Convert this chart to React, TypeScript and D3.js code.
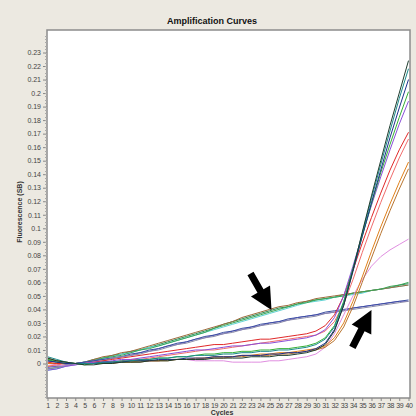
import React, { useEffect, useRef } from 'react';
import * as d3 from 'd3';

// cycle numbers 1..40
const cycles = [
  1, 2, 3, 4, 5, 6, 7, 8, 9, 10, 11, 12, 13, 14, 15, 16, 17, 18, 19, 20,
  21, 22, 23, 24, 25, 26, 27, 28, 29, 30, 31, 32, 33, 34, 35, 36, 37, 38, 39, 40,
];

const yTickValues = [
  0, 0.01, 0.02, 0.03, 0.04, 0.05, 0.06, 0.07, 0.08, 0.09, 0.1, 0.11,
  0.12, 0.13, 0.14, 0.15, 0.16, 0.17, 0.18, 0.19, 0.2, 0.21, 0.22, 0.23,
];
const yTickLabels = [
  '0', '0.01', '0.02', '0.03', '0.04', '0.05', '0.06', '0.07', '0.08', '0.09', '0.1', '0.11',
  '0.12', '0.13', '0.14', '0.15', '0.16', '0.17', '0.18', '0.19', '0.2', '0.21', '0.22', '0.23',
];

// upper drifting group (first arrow)
const upper1 = [-0.004,-0.003,-0.002,0.000,0.001,0.003,0.004,0.006,0.007,0.009,0.010,0.012,0.014,0.016,0.018,0.020,0.022,0.024,0.026,0.029,0.031,0.033,0.035,0.037,0.039,0.041,0.042,0.044,0.046,0.047,0.048,0.049,0.051,0.052,0.053,0.054,0.055,0.056,0.058,0.059];
const upper2 = [-0.005,-0.004,-0.002,-0.001,0.001,0.002,0.004,0.005,0.007,0.008,0.010,0.012,0.013,0.015,0.017,0.019,0.021,0.023,0.025,0.027,0.029,0.031,0.033,0.035,0.037,0.039,0.041,0.043,0.045,0.046,0.047,0.049,0.050,0.051,0.052,0.054,0.055,0.056,0.057,0.058];
const upper3 = [-0.002,-0.002,-0.001,0.000,0.001,0.003,0.005,0.006,0.008,0.009,0.011,0.013,0.015,0.017,0.019,0.021,0.023,0.025,0.027,0.029,0.031,0.034,0.036,0.038,0.040,0.042,0.043,0.045,0.046,0.048,0.049,0.050,0.051,0.052,0.053,0.054,0.055,0.056,0.057,0.058];
const upper4 = [0.003,0.002,0.001,0.000,0.001,0.002,0.004,0.005,0.006,0.008,0.010,0.011,0.013,0.015,0.017,0.019,0.021,0.023,0.026,0.028,0.030,0.032,0.034,0.036,0.038,0.040,0.042,0.044,0.045,0.047,0.048,0.049,0.050,0.052,0.053,0.054,0.055,0.057,0.058,0.060];

// lower drifting group (second arrow)
const lower1 = [-0.003,-0.002,-0.001,0.000,0.001,0.002,0.003,0.004,0.005,0.006,0.008,0.009,0.011,0.013,0.014,0.016,0.018,0.019,0.021,0.022,0.024,0.025,0.027,0.028,0.030,0.031,0.032,0.034,0.035,0.036,0.037,0.038,0.039,0.041,0.042,0.043,0.044,0.045,0.046,0.046];
const lower2 = [0.002,0.001,0.000,0.000,0.001,0.002,0.003,0.004,0.005,0.007,0.008,0.010,0.011,0.013,0.015,0.016,0.018,0.020,0.021,0.023,0.024,0.026,0.027,0.029,0.030,0.031,0.033,0.034,0.035,0.036,0.038,0.039,0.040,0.041,0.042,0.043,0.044,0.045,0.046,0.047];
const lower3 = [-0.004,-0.003,-0.001,0.000,0.000,0.001,0.002,0.004,0.005,0.006,0.007,0.009,0.010,0.012,0.014,0.015,0.017,0.019,0.020,0.022,0.023,0.025,0.026,0.028,0.029,0.030,0.032,0.033,0.034,0.035,0.037,0.038,0.039,0.040,0.041,0.042,0.043,0.044,0.045,0.046];

// amplifying samples
const amp1 = [0.004,0.002,0.001,0.000,-0.001,-0.001,0.000,0.000,0.001,0.001,0.001,0.002,0.002,0.002,0.003,0.003,0.003,0.003,0.004,0.004,0.004,0.004,0.005,0.005,0.005,0.006,0.006,0.007,0.008,0.010,0.014,0.024,0.043,0.069,0.097,0.124,0.150,0.176,0.200,0.224];
const amp2 = [0.005,0.003,0.001,0.000,0.000,0.000,0.001,0.001,0.002,0.002,0.003,0.003,0.004,0.004,0.005,0.005,0.006,0.006,0.006,0.007,0.007,0.008,0.008,0.009,0.009,0.010,0.010,0.011,0.012,0.014,0.018,0.027,0.045,0.070,0.096,0.122,0.147,0.172,0.196,0.218];
const amp3 = [0.003,0.001,0.000,0.000,-0.001,0.000,0.000,0.001,0.001,0.002,0.002,0.003,0.004,0.004,0.005,0.005,0.006,0.007,0.007,0.008,0.008,0.009,0.009,0.010,0.010,0.011,0.011,0.012,0.013,0.015,0.019,0.028,0.046,0.070,0.094,0.118,0.141,0.162,0.182,0.201];
const amp4 = [-0.005,-0.004,-0.002,-0.001,0.000,0.001,0.001,0.002,0.003,0.003,0.004,0.005,0.006,0.007,0.008,0.009,0.010,0.010,0.011,0.012,0.013,0.013,0.014,0.015,0.015,0.016,0.017,0.018,0.019,0.021,0.025,0.034,0.050,0.072,0.095,0.117,0.138,0.158,0.177,0.194];
const amp5 = [0.002,0.001,0.000,0.000,0.000,0.000,0.001,0.001,0.001,0.002,0.002,0.002,0.003,0.003,0.003,0.004,0.004,0.004,0.005,0.005,0.005,0.006,0.006,0.006,0.007,0.007,0.008,0.008,0.009,0.011,0.015,0.025,0.043,0.068,0.094,0.119,0.143,0.167,0.189,0.210];
const amp6 = [0.001,0.000,0.000,0.000,0.000,0.001,0.002,0.003,0.004,0.005,0.006,0.007,0.008,0.009,0.010,0.011,0.012,0.013,0.014,0.014,0.015,0.016,0.017,0.018,0.018,0.019,0.020,0.021,0.022,0.024,0.028,0.036,0.050,0.069,0.089,0.108,0.126,0.143,0.158,0.171];
const amp7 = [-0.002,-0.001,0.000,0.000,0.000,0.000,0.001,0.001,0.002,0.003,0.003,0.004,0.005,0.006,0.007,0.008,0.009,0.010,0.010,0.011,0.012,0.013,0.014,0.015,0.016,0.017,0.018,0.019,0.020,0.021,0.024,0.031,0.044,0.062,0.082,0.101,0.119,0.136,0.152,0.166];
const amp8 = [0.000,0.000,0.000,0.000,0.000,0.000,0.000,0.001,0.001,0.001,0.002,0.002,0.002,0.003,0.003,0.003,0.004,0.004,0.005,0.005,0.005,0.006,0.006,0.007,0.007,0.008,0.008,0.009,0.010,0.011,0.013,0.019,0.030,0.046,0.064,0.083,0.101,0.118,0.134,0.149];
const amp9 = [0.004,0.002,0.001,0.000,0.000,0.000,0.000,0.000,0.001,0.001,0.001,0.002,0.002,0.002,0.003,0.003,0.003,0.004,0.004,0.004,0.005,0.005,0.006,0.006,0.006,0.007,0.007,0.008,0.009,0.010,0.012,0.017,0.027,0.042,0.060,0.078,0.096,0.113,0.129,0.144];
const slowPink = [0.000,-0.001,-0.002,-0.001,0.000,0.000,0.001,0.001,0.001,0.002,0.002,0.002,0.002,0.003,0.003,0.003,0.002,0.002,0.002,0.002,0.001,0.001,0.001,0.001,0.002,0.002,0.003,0.004,0.005,0.007,0.012,0.022,0.036,0.050,0.062,0.072,0.079,0.084,0.088,0.092];

const seriesList = [
  { name: 'upper1', values: upper1, color: '#2e8b57' },
  { name: 'upper2', values: upper2, color: '#5fd3d3' },
  { name: 'upper3', values: upper3, color: '#9c6b3c' },
  { name: 'upper4', values: upper4, color: '#3aa655' },
  { name: 'lower1', values: lower1, color: '#6a5acd' },
  { name: 'lower2', values: lower2, color: '#3b4fa0' },
  { name: 'lower3', values: lower3, color: '#8a8aa8' },
  { name: 'slowPink', values: slowPink, color: '#e08ee0' },
  { name: 'amp9', values: amp9, color: '#b8742f' },
  { name: 'amp8', values: amp8, color: '#e0801a' },
  { name: 'amp7', values: amp7, color: '#f06c6c' },
  { name: 'amp6', values: amp6, color: '#e02828' },
  { name: 'amp4', values: amp4, color: '#8a4fd8' },
  { name: 'amp3', values: amp3, color: '#35b035' },
  { name: 'amp5', values: amp5, color: '#1e2f8c' },
  { name: 'amp2', values: amp2, color: '#1b8a8a' },
  { name: 'amp1', values: amp1, color: '#1f3d2f' },
];

// arrow annotations: tip at (cycle, value), pointing angle in degrees
const arrowNotes = [
  { cycle: 25.2, value: 0.0396, angle: 60 },
  { cycle: 36.0, value: 0.0396, angle: -63 },
];

export default function App() {
  const ref = useRef<SVGSVGElement>(null);

  useEffect(() => {
    const width = 416;
    const height = 416;
    const left = 47;
    const right = 410;
    const top = 30;
    const bottom = 398;

    const svg = d3.select(ref.current);
    svg.selectAll('*').remove();

    const x = d3.scaleLinear().domain([1, 40]).range([left + 0.5, right - 1.5]);
    const y = d3.scaleLinear().domain([0, 0.23]).range([363.5, 52.5]);

    svg.append('rect')
      .attr('width', width).attr('height', height)
      .attr('fill', '#ece9e1');

    svg.append('text')
      .attr('x', 212).attr('y', 24)
      .attr('text-anchor', 'middle')
      .attr('font-family', 'Liberation Sans, Arial, sans-serif')
      .attr('font-size', 9).attr('font-weight', 'bold')
      .attr('fill', '#111')
      .text('Amplification Curves');

    svg.append('rect')
      .attr('x', left).attr('y', top)
      .attr('width', right - left).attr('height', bottom - top)
      .attr('fill', '#ffffff')
      .attr('stroke', '#8c8c8c')
      .attr('stroke-width', 1.5);

    svg.append('clipPath').attr('id', 'plotClip')
      .append('rect')
      .attr('x', left + 1).attr('y', top + 1)
      .attr('width', right - left - 2).attr('height', bottom - top - 2);

    // y axis
    const yAxis = d3.axisLeft(y)
      .tickValues(yTickValues)
      .tickSize(4)
      .tickFormat((d, i) => yTickLabels[i]);
    svg.append('g')
      .attr('transform', `translate(${left},0)`)
      .call(yAxis)
      .call(g => g.select('.domain').remove())
      .call(g => g.selectAll('.tick line').attr('stroke', '#888'))
      .call(g => g.selectAll('.tick text')
        .attr('font-family', 'Liberation Sans, Arial, sans-serif')
        .attr('font-size', 7)
        .attr('fill', '#444')
        .attr('dx', 1));

    // minor y ticks
    const minor = d3.range(-0.025, 0.245, 0.0025);
    svg.append('g')
      .selectAll('line')
      .data(minor)
      .join('line')
      .attr('x1', left - 2).attr('x2', left)
      .attr('y1', d => Math.round(y(d)) + 0.5).attr('y2', d => Math.round(y(d)) + 0.5)
      .attr('stroke', '#aaa');

    // x axis
    const xAxis = d3.axisBottom(x)
      .tickValues(cycles)
      .tickSize(3)
      .tickFormat(d => String(d));
    svg.append('g')
      .attr('transform', `translate(0,${bottom})`)
      .call(xAxis)
      .call(g => g.select('.domain').remove())
      .call(g => g.selectAll('.tick line').attr('stroke', '#888'))
      .call(g => g.selectAll('.tick text')
        .attr('font-family', 'Liberation Sans, Arial, sans-serif')
        .attr('font-size', 7)
        .attr('letter-spacing', -0.4)
        .attr('fill', '#444')
        .attr('dy', '0.55em'));

    svg.append('text')
      .attr('x', 222).attr('y', 415)
      .attr('text-anchor', 'middle')
      .attr('font-family', 'Liberation Sans, Arial, sans-serif')
      .attr('font-size', 7).attr('font-weight', 'bold')
      .attr('fill', '#333')
      .text('Cycles');

    svg.append('text')
      .attr('transform', 'translate(22,212) rotate(-90)')
      .attr('text-anchor', 'middle')
      .attr('font-family', 'Liberation Sans, Arial, sans-serif')
      .attr('font-size', 7).attr('font-weight', 'bold')
      .attr('fill', '#333')
      .text('Fluorescence (SB)');

    // curves
    const line = d3.line<number>()
      .x((d, i) => x(cycles[i]))
      .y(d => y(d));

    svg.append('g')
      .attr('clip-path', 'url(#plotClip)')
      .selectAll('path')
      .data(seriesList)
      .join('path')
      .attr('fill', 'none')
      .attr('stroke', s => s.color)
      .attr('stroke-width', 1)
      .attr('stroke-linejoin', 'round')
      .attr('d', s => line(s.values));

    // arrows
    const arrowShape = 'M0,0 L-22,-11 L-22,-3.5 L-42,-3.5 L-42,3.5 L-22,3.5 L-22,11 Z';
    svg.append('g')
      .selectAll('path')
      .data(arrowNotes)
      .join('path')
      .attr('transform', a => `translate(${x(a.cycle)},${y(a.value)}) rotate(${a.angle})`)
      .attr('d', arrowShape)
      .attr('fill', '#000');
  }, []);

  return (
    <svg
      ref={ref}
      width={416}
      height={416}
      style={{ position: 'absolute', left: 0, top: 0 }}
    />
  );
}
